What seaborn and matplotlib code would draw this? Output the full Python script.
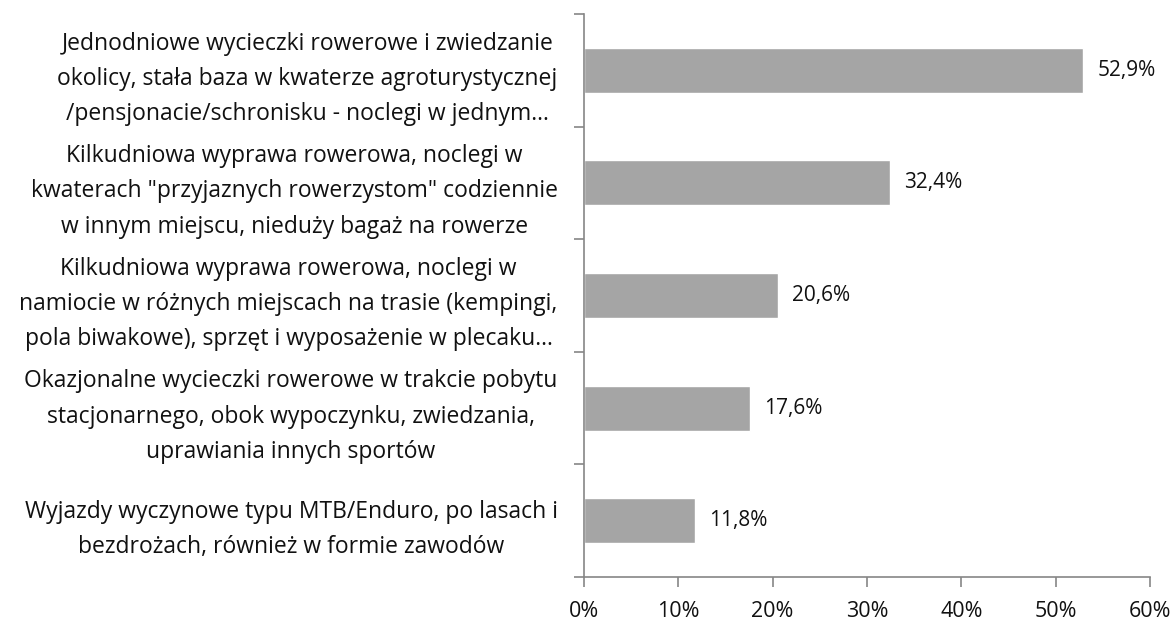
import seaborn as sns
import pandas as pd
import matplotlib.pyplot as plt

# Data
categories = [
    "Jednodniowe wycieczki rowerowe i zwiedzanie\nokolicy, stała baza w kwaterze agroturystycznej\n/pensjonacie/schronisku - noclegi w jednym…",
    "Kilkudniowa wyprawa rowerowa, noclegi w\nkwaterach \"przyjaznych rowerzystom\" codziennie\nw innym miejscu, nieduży bagaż na rowerze",
    "Kilkudniowa wyprawa rowerowa, noclegi w\nnamiocie w różnych miejscach na trasie (kempingi,\npola biwakowe), sprzęt i wyposażenie w plecaku…",
    "Okazjonalne wycieczki rowerowe w trakcie pobytu\nstacjonarnego, obok wypoczynku, zwiedzania,\nuprawiania innych sportów",
    "Wyjazdy wyczynowe typu MTB/Enduro, po lasach i\nbezdrożach, również w formie zawodów",
]
values = [52.9, 32.4, 20.6, 17.6, 11.8]
x_ticks = [0, 10, 20, 30, 40, 50, 60]

df = pd.DataFrame({"kategoria": categories, "procent": values})

sns.set_theme(style="white")
plt.rcParams["font.family"] = ["Open Sans", "DejaVu Sans"]

fig, ax = plt.subplots(figsize=(11.75, 6.21), dpi=100)
fig.subplots_adjust(left=0.497, right=0.9787, top=0.9775, bottom=0.0709)

sns.barplot(data=df, x="procent", y="kategoria", orient="h", color="#a5a5a5",
            saturation=1, width=0.4, ax=ax)

for p, v in zip(ax.patches, values):
    ax.text(p.get_width() + 1.5, p.get_y() + p.get_height() / 2,
            f"{v:.1f}%".replace(".", ","), va="center", ha="left",
            fontsize=15, color="#111111")

ax.set_xlim(0, 60)
ax.set_ylim(4.5, -0.5)
ax.set_xticks(x_ticks)
ax.set_xticklabels([f"{t}%" for t in x_ticks], fontsize=15.5, color="#111111")
ax.set_yticks([i - 0.5 for i in range(6)], minor=True)
ax.set_yticks(range(5))
ax.set_yticklabels(categories, fontsize=16.5, color="#111111",
                   multialignment="center", linespacing=1.62)
ax.tick_params(axis="y", which="major", length=0, pad=19)
ax.tick_params(axis="y", which="minor", length=7, width=1.2, color="#868686", left=True)
ax.tick_params(axis="x", length=7, width=1.2, color="#868686", bottom=True, pad=10)

ax.set_xlabel("")
ax.set_ylabel("")
for s in ["top", "right"]:
    ax.spines[s].set_visible(False)
for s in ["left", "bottom"]:
    ax.spines[s].set_color("#868686")
    ax.spines[s].set_linewidth(1.2)

fig.savefig("out.png", dpi=100)
